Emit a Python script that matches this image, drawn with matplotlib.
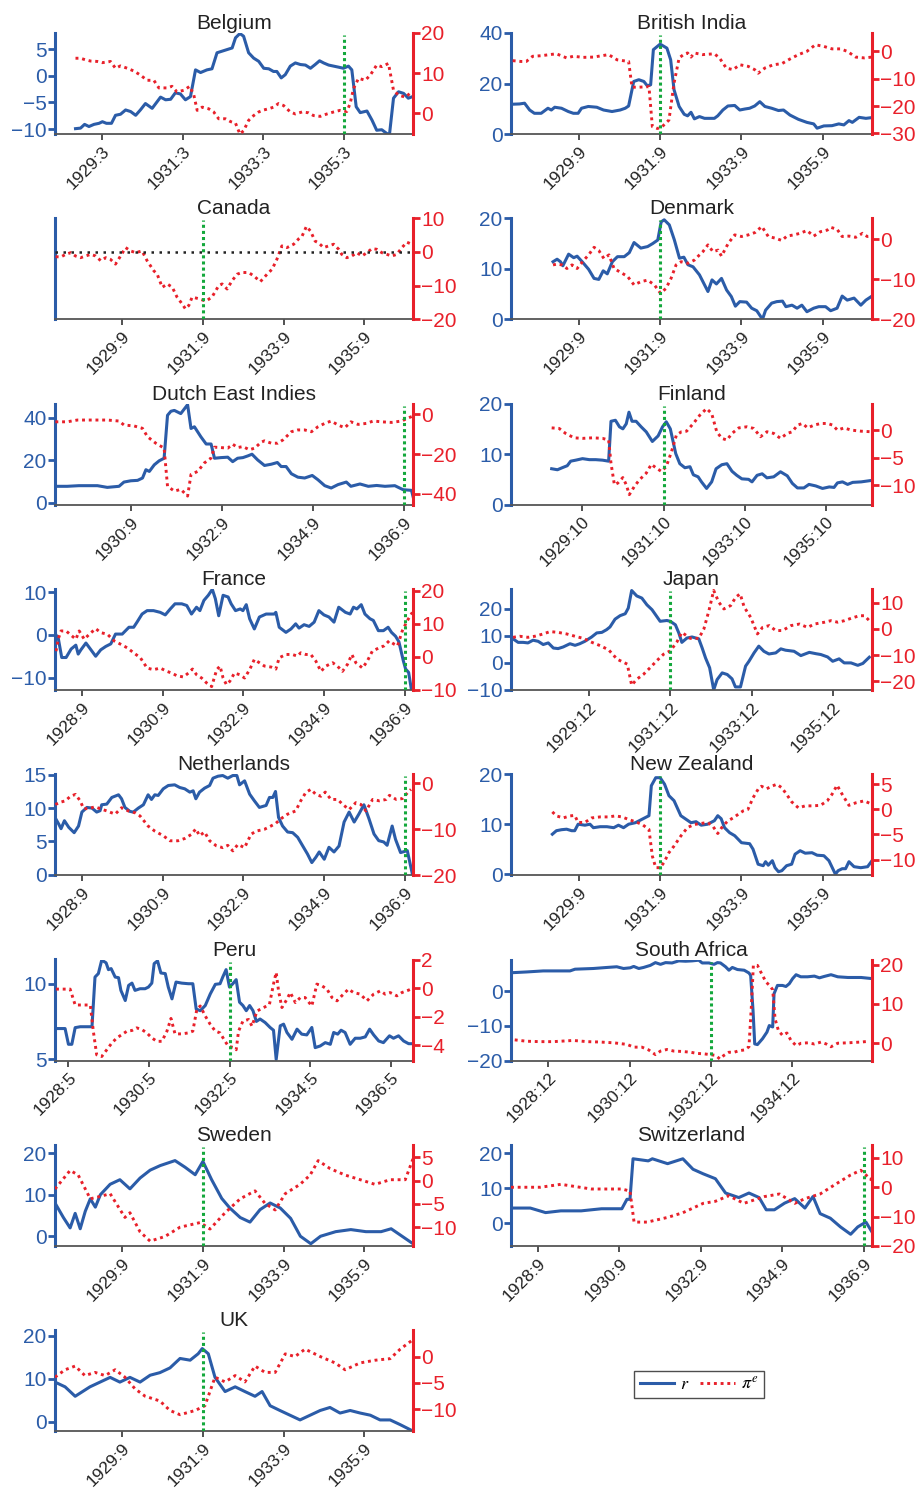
import matplotlib
matplotlib.use("Agg")
import matplotlib.pyplot as plt
from matplotlib.lines import Line2D

plt.rcParams["font.family"] = ["Liberation Sans", "DejaVu Sans"]
plt.rcParams["mathtext.fontset"] = "stix"

BLUE = "#2b5ca8"
RED = "#e8202a"
GREEN = "#14a83c"

# series are (month index from 1928:1, value) pairs; r = real rate, pi = expected inflation
belgium_r = [(6.1,-9.9),(7.6,-9.8),(8.8,-9.1),(10.1,-9.5),(11.6,-9.1),(13.1,-8.9),(14.1,-8.6),(15.3,-8.9),(16.8,-8.9),(18.0,-7.4),(19.5,-7.2),(21.0,-6.4),(22.5,-6.7),(24.0,-7.4),(25.4,-6.4),(26.9,-5.2),(28.9,-6.1),(31.4,-4.0),(32.9,-4.5),(34.4,-4.4),(35.8,-3.2),(37.3,-3.4),(38.8,-4.5),(40.3,-3.9),(41.8,1.1),(43.3,0.6),(45.2,1.1),(46.7,1.3),(48.2,4.3),(49.7,4.6),(51.2,4.9),(52.7,5.2),(53.7,7.1),(55.0,7.9),(56.1,7.4),(57.6,4.3),(59.1,3.3),(60.6,2.7),(62.1,1.4),(63.6,1.3),(65.0,0.8),(66.0,0.8),(67.3,-0.4),(68.5,0.2),(70.0,1.8),(71.5,2.4),(73.0,2.1),(74.5,2.0),(76.0,1.4),(77.4,2.1),(78.7,2.8),(79.9,2.4),(81.4,2.0),(82.9,1.8),(84.4,1.6),(85.8,1.4),(87.3,1.8),(88.3,1.1),(89.6,-5.8),(90.8,-6.9),(92.8,-6.6),(94.3,-8.3),(95.7,-10.2),(97.2,-10.1),(98.7,-10.8),(99.5,-11.0),(100.7,-4.2),(102.2,-3.0),(103.7,-3.3),(105.1,-4.2),(106.4,-3.9)]
belgium_pi = [(6.1,13.7),(7.6,13.7),(9.1,13.3),(10.6,13.0),(12.6,12.9),(14.1,12.6),(16.5,12.9),(18.0,11.2),(19.5,11.8),(21.5,11.2),(23.5,10.5),(25.4,9.5),(27.4,8.2),(29.4,8.2),(30.9,6.3),(33.4,6.3),(34.8,6.7),(36.3,5.3),(38.3,5.7),(40.1,6.7),(41.3,4.5),(42.3,0.7),(43.8,1.5),(45.7,1.1),(47.2,0.3),(48.7,-1.4),(50.7,-1.4),(52.2,-2.1),(53.7,-2.5),(55.0,-5.2),(56.1,-4.4),(57.6,-1.8),(59.1,-0.6),(60.6,0.3),(62.1,0.8),(63.6,1.1),(65.0,1.5),(66.5,2.4),(68.0,1.9),(70.0,0.3),(71.5,-0.2),(73.5,0.3),(75.4,0.1),(76.9,-0.6),(78.9,-0.8),(80.9,-0.2),(82.9,0.3),(84.8,0.7),(86.8,0.4),(87.8,2.4),(88.8,6.1),(90.3,8.7),(92.3,8.2),(93.8,9.5),(95.7,12.0),(97.2,11.6),(99.2,12.4),(100.7,5.7),(102.2,4.5),(104.2,4.0),(106.2,5.3)]

british_india_r = [(0.5,11.8),(2.5,11.9),(4.0,12.2),(5.5,9.5),(6.9,8.2),(8.9,8.2),(10.9,10.2),(11.9,9.5),(12.9,10.6),(14.9,10.2),(16.9,8.9),(18.4,8.2),(19.8,8.2),(20.8,10.2),(22.8,10.9),(25.3,10.6),(27.3,9.5),(29.8,8.9),(32.2,9.5),(33.7,10.2),(34.7,11.1),(36.2,20.8),(37.7,21.5),(39.2,20.8),(40.2,19.1),(41.2,19.5),(42.0,33.4),(44.0,35.6),(46.0,34.0),(47.1,29.4),(48.1,17.5),(49.6,10.9),(51.1,7.8),(52.1,7.2),(53.1,8.6),(54.1,6.0),(55.6,6.9),(57.1,6.2),(60.0,6.2),(61.0,7.2),(62.5,9.5),(64.0,11.1),(66.0,11.3),(67.5,9.5),(69.0,9.9),(70.4,10.2),(71.9,11.1),(73.4,12.8),(74.9,10.9),(76.9,10.2),(78.9,9.3),(80.4,9.5),(82.3,7.5),(84.8,5.8),(87.3,4.6),(89.3,4.0),(90.3,2.3),(92.3,3.2),(94.7,3.3),(96.7,4.0),(98.2,3.6),(99.7,5.3),(100.7,4.6),(102.7,6.6),(104.7,6.2),(106.5,6.5)]
british_india_pi = [(0.5,-3.4),(2.9,-3.7),(4.5,-3.7),(6.4,-1.8),(8.9,-1.6),(11.4,-1.2),(13.4,-0.9),(16.4,-2.4),(18.4,-1.8),(21.3,-2.2),(24.3,-2.1),(28.8,-1.2),(31.3,-3.1),(34.7,-3.7),(35.7,-13.1),(37.7,-13.1),(40.7,-12.9),(41.7,-27.5),(43.2,-28.2),(44.6,-27.5),(46.6,-25.1),(48.1,-11.6),(49.6,-2.4),(51.1,-1.0),(52.1,-0.6),(53.1,-2.1),(54.1,-0.6),(56.5,-1.2),(60.0,-0.9),(61.5,-2.4),(63.5,-6.1),(65.5,-6.7),(67.5,-4.9),(70.0,-5.5),(71.9,-6.7),(72.9,-8.0),(74.9,-6.1),(77.4,-4.9),(79.9,-4.5),(82.3,-2.8),(84.8,-1.2),(87.3,0.0),(89.8,2.4),(92.3,1.8),(94.7,0.9),(97.2,0.9),(99.2,0.0),(101.7,-2.1),(104.2,-2.4),(106.5,-2.1)]

canada_pi = [(0.2,-1.4),(1.7,-1.5),(3.2,-0.7),(4.7,-0.2),(6.1,-1.2),(7.6,-1.7),(9.1,-1.2),(10.6,-0.7),(12.1,-1.2),(13.6,-2.6),(15.1,-1.7),(16.5,-2.2),(18.0,-3.6),(19.5,-1.2),(21.0,1.3),(22.5,0.3),(24.0,-0.2),(25.9,0.3),(27.4,-2.6),(29.4,-5.6),(30.4,-6.6),(31.9,-10.5),(33.4,-9.5),(34.9,-10.5),(36.3,-13.4),(37.8,-15.4),(38.8,-16.9),(39.8,-15.9),(40.8,-13.4),(42.8,-13.9),(44.3,-14.4),(45.2,-14.4),(46.7,-13.4),(48.7,-10.0),(49.7,-9.5),(51.2,-11.0),(52.7,-8.5),(54.2,-6.6),(55.6,-6.1),(57.6,-6.1),(59.1,-7.1),(61.1,-8.8),(63.1,-6.6),(64.6,-5.1),(66.0,-2.2),(67.5,1.8),(69.0,1.3),(71.0,2.3),(72.5,3.9),(73.5,4.7),(74.8,7.6),(76.0,6.2),(77.4,3.2),(78.4,2.7),(79.9,1.3),(81.4,1.8),(82.9,2.3),(84.4,0.8),(85.3,-0.7),(86.8,-1.7),(88.3,-1.2),(89.8,-0.2),(91.3,-1.2),(92.8,-0.2),(94.3,1.0),(95.7,0.8),(97.2,-0.2),(98.7,-0.7),(100.2,-1.2),(101.7,-0.7),(103.2,1.3),(104.7,2.9),(106.1,2.3)]

denmark_r = [(12.4,11.4),(13.6,11.9),(14.6,11.4),(15.3,10.6),(17.0,12.9),(18.5,12.2),(19.5,12.5),(21.0,11.4),(22.9,9.9),(24.5,8.1),(25.9,7.9),(27.2,9.6),(28.4,9.0),(29.9,11.4),(31.4,12.4),(33.4,12.4),(34.9,13.2),(36.3,15.2),(38.3,14.1),(40.3,14.4),(41.8,15.0),(43.3,15.7),(44.3,19.3),(45.2,19.7),(46.7,18.7),(48.2,15.7),(49.7,12.1),(51.0,12.3),(52.2,10.8),(53.7,10.4),(55.6,8.8),(58.1,5.5),(59.3,7.8),(60.6,7.0),(62.1,8.1),(63.6,5.8),(65.0,4.5),(66.2,2.6),(67.5,3.5),(69.5,3.4),(71.0,2.2),(72.5,1.7),(74.2,0.0),(75.1,1.8),(76.9,3.2),(78.4,3.5),(80.1,3.6),(81.1,2.5),(82.9,2.8),(84.4,2.2),(85.8,2.8),(87.3,1.5),(89.3,2.2),(90.8,2.5),(92.8,2.5),(94.3,1.7),(96.2,2.2),(97.7,4.6),(99.2,3.8),(101.2,4.2),(103.2,2.8),(104.7,3.8),(106.5,4.6)]
denmark_pi = [(12.4,-6.4),(13.6,-6.2),(15.0,-6.4),(16.5,-7.3),(18.0,-6.4),(19.5,-7.3),(21.5,-5.2),(22.9,-3.9),(24.5,-2.0),(25.9,-2.8),(27.4,-4.8),(28.9,-3.9),(30.4,-7.3),(32.4,-8.3),(34.4,-9.3),(36.3,-11.4),(38.3,-10.6),(40.3,-10.2),(42.3,-11.4),(44.1,-13.5),(45.7,-12.3),(47.2,-9.8),(48.7,-6.4),(50.2,-5.6),(52.2,-6.0),(54.1,-5.2),(55.6,-3.9),(56.6,-3.1),(58.1,-1.4),(59.6,-3.1),(61.1,-2.7),(62.1,-4.2),(64.1,-1.0),(66.0,1.1),(68.0,0.7),(70.0,1.1),(72.0,1.7),(74.0,3.2),(75.9,0.7),(77.9,0.3),(79.9,-0.3),(81.4,0.8),(83.4,1.1),(85.3,1.5),(87.3,2.2),(89.3,0.8),(91.3,1.9),(93.3,2.3),(94.3,3.0),(96.2,2.5),(97.7,0.7),(99.7,0.8),(101.7,0.5),(103.7,1.5),(105.1,0.7),(106.5,0.8)]

dutch_east_indies_r = [(12.1,7.8),(15.2,7.8),(18.3,8.1),(23.2,8.1),(25.8,7.3),(28.9,7.8),(30.2,9.8),(32.0,10.4),(33.8,10.6),(35.1,11.7),(36.0,15.6),(36.9,14.8),(38.2,17.9),(39.5,19.8),(40.8,21.0),(41.7,41.2),(42.6,43.1),(43.5,43.5),(45.2,42.0),(47.0,46.2),(47.9,35.0),(48.8,35.8),(50.5,31.1),(51.9,27.7),(53.2,27.7),(54.1,21.0),(55.8,21.3),(57.6,21.5),(58.9,19.4),(60.2,21.0),(61.6,21.3),(62.9,22.1),(64.0,22.9),(65.5,20.2),(67.3,17.6),(69.1,18.2),(70.7,19.0),(71.7,17.1),(73.0,17.1),(74.4,13.7),(76.1,12.1),(77.9,11.7),(79.9,12.9),(81.4,10.9),(83.2,8.1),(84.9,7.0),(86.7,8.6),(88.9,9.8),(90.1,7.8),(92.5,8.9),(94.7,7.8),(96.9,8.2),(99.1,7.8),(101.7,8.1),(103.9,6.2),(106.1,5.9),(107.0,-0.5)]
dutch_east_indies_pi = [(12.1,-3.7),(15.2,-3.7),(17.9,-2.8),(23.2,-2.8),(25.8,-2.8),(28.9,-3.3),(30.2,-5.3),(32.9,-5.8),(35.1,-7.0),(36.4,-11.2),(38.6,-14.5),(40.8,-17.0),(41.7,-36.2),(43.5,-38.7),(45.2,-37.8),(47.0,-41.2),(47.9,-30.3),(49.7,-28.7),(51.4,-24.5),(53.2,-22.0),(54.1,-16.5),(55.8,-16.7),(57.6,-17.0),(58.9,-15.0),(60.2,-16.7),(61.6,-16.2),(63.3,-17.8),(64.7,-17.0),(66.4,-14.0),(67.3,-13.3),(69.1,-14.5),(70.8,-14.5),(72.2,-12.8),(74.4,-8.7),(76.1,-7.8),(77.9,-7.8),(79.7,-8.7),(81.4,-6.2),(83.2,-4.5),(84.9,-3.3),(86.7,-5.3),(88.5,-6.7),(90.1,-3.7),(92.0,-5.0),(94.2,-4.5),(96.0,-3.3),(98.2,-3.7),(100.8,-4.0),(103.5,-3.3),(105.3,-1.7),(106.6,-0.7)]

finland_r = [(12.0,7.1),(13.7,6.9),(15.1,7.3),(16.6,7.7),(17.6,8.6),(19.1,8.8),(21.1,9.1),(23.1,8.9),(25.0,8.9),(27.0,8.8),(28.8,8.6),(29.5,16.5),(30.8,16.7),(32.0,15.4),(33.0,15.0),(34.0,16.0),(34.8,18.3),(35.7,16.5),(36.9,16.5),(38.4,15.4),(39.9,14.4),(41.7,12.5),(43.4,13.6),(44.7,15.4),(45.8,16.4),(47.0,15.0),(48.6,10.1),(49.8,8.1),(51.3,7.3),(52.8,7.5),(53.8,5.9),(55.2,5.5),(56.2,4.5),(57.7,3.2),(59.2,4.5),(60.5,7.1),(62.2,7.9),(63.7,8.1),(65.2,6.6),(66.6,5.8),(68.1,5.1),(70.1,5.0),(71.1,4.5),(72.6,5.8),(74.1,6.1),(75.5,5.3),(77.5,5.5),(79.5,6.5),(81.5,5.7),(83.0,4.2),(84.5,3.3),(86.4,3.3),(87.9,4.0),(89.9,3.7),(91.9,3.2),(93.9,3.5),(95.3,3.4),(96.3,4.3),(97.8,4.5),(99.3,4.0),(100.8,4.4),(103.3,4.5),(106.5,4.8)]
finland_pi = [(12.0,0.4),(14.2,0.3),(16.1,-0.6),(18.6,-1.4),(21.1,-1.5),(24.1,-1.4),(27.0,-1.5),(28.8,-1.8),(29.5,-6.0),(30.5,-9.9),(31.5,-9.6),(33.0,-8.6),(34.0,-9.9),(34.9,-11.7),(36.4,-10.2),(37.9,-9.0),(39.9,-7.8),(41.4,-6.2),(42.9,-6.9),(44.4,-7.5),(45.8,-6.6),(47.3,-4.0),(48.8,-0.9),(50.3,-0.3),(51.8,-0.2),(53.8,1.2),(55.7,2.7),(57.7,3.9),(59.2,3.0),(60.7,-0.3),(62.2,-1.5),(63.7,-1.8),(65.2,-0.6),(67.2,0.4),(69.6,0.6),(71.6,0.3),(73.6,-1.2),(75.5,-0.3),(77.5,-0.6),(79.5,-1.5),(81.5,-0.6),(83.0,-0.3),(84.5,0.9),(86.0,1.2),(87.5,0.4),(89.4,0.9),(91.4,1.2),(93.4,1.2),(94.9,0.9),(96.3,0.0),(98.3,0.4),(100.3,0.0),(103.3,-0.2),(106.2,-0.3)]

france_r = [(0.3,0.0),(1.0,-0.9),(2.0,-5.3),(3.3,-5.3),(4.8,-3.3),(6.2,-2.4),(6.9,-4.5),(7.7,-3.5),(9.2,-1.9),(10.7,-3.5),(12.1,-5.0),(13.6,-3.5),(15.1,-2.7),(16.6,-2.1),(18.0,0.2),(20.0,0.2),(22.0,1.8),(23.4,1.8),(24.4,3.0),(25.9,4.9),(27.4,5.7),(29.3,5.7),(31.3,5.3),(32.8,4.7),(34.3,6.1),(35.7,7.3),(37.7,7.3),(39.2,6.9),(40.6,4.9),(42.1,6.5),(43.1,5.7),(44.3,8.1),(45.6,9.3),(46.8,10.7),(47.7,8.5),(48.7,4.5),(50.0,9.3),(51.5,8.9),(52.4,7.3),(53.7,5.7),(55.1,6.1),(55.9,5.7),(56.9,7.1),(57.9,3.8),(59.3,1.4),(60.8,4.2),(62.8,4.9),(65.2,4.9),(65.7,5.3),(66.7,1.8),(68.7,0.6),(70.2,1.4),(71.6,2.6),(72.6,1.6),(74.1,2.4),(75.6,2.0),(77.1,3.0),(78.5,5.7),(80.0,4.7),(81.5,4.2),(83.0,3.0),(84.4,6.5),(86.4,5.3),(87.8,4.9),(88.8,6.5),(89.8,6.1),(91.1,7.1),(92.2,4.9),(93.7,3.8),(94.7,3.4),(96.2,1.0),(97.7,1.0),(99.1,1.8),(100.1,0.6),(101.3,-0.3),(102.3,-1.6),(103.6,-6.0),(104.3,-8.0),(105.2,-8.8),(106.0,-12.7)]
france_pi = [(0.3,1.7),(1.0,5.5),(1.8,7.8),(3.3,7.8),(4.8,6.5),(6.2,5.3),(7.2,7.8),(8.7,5.3),(10.2,6.8),(12.1,8.5),(13.6,7.3),(15.6,6.8),(17.6,4.8),(19.5,3.8),(21.5,2.7),(23.4,1.2),(25.4,-0.3),(27.4,-3.4),(29.3,-3.9),(31.3,-3.4),(33.3,-4.4),(34.7,-4.9),(36.2,-5.7),(38.2,-6.1),(39.7,-4.9),(40.9,-3.7),(42.1,-5.4),(43.6,-6.4),(45.1,-7.9),(46.6,-9.0),(48.1,-3.9),(49.1,-2.8),(50.0,-6.4),(51.0,-8.4),(52.0,-7.4),(53.4,-4.9),(54.9,-5.4),(56.4,-6.4),(57.9,-3.9),(59.3,-0.8),(60.8,-1.8),(62.3,-2.8),(64.3,-3.1),(65.7,-3.7),(66.7,-0.3),(68.7,0.7),(70.6,0.7),(72.1,0.2),(73.1,1.2),(74.6,0.7),(76.1,0.7),(77.6,-1.3),(79.1,-4.4),(80.6,-2.8),(82.6,-1.8),(84.0,-2.8),(85.5,-4.4),(87.0,-2.3),(88.3,0.7),(89.5,-1.8),(91.5,-3.4),(92.9,-1.3),(94.4,1.7),(96.4,2.7),(97.9,3.3),(99.4,4.8),(100.9,3.8),(101.9,3.3),(103.3,7.8),(104.8,10.9),(106.3,13.4)]

japan_r = [(0.6,8.9),(2.1,7.6),(3.6,7.6),(5.0,7.4),(6.5,8.4),(8.0,8.0),(9.5,6.8),(11.0,7.4),(12.5,5.5),(13.9,5.3),(15.4,5.9),(17.4,7.1),(18.9,6.5),(20.3,7.1),(21.8,8.0),(23.8,9.6),(25.3,11.1),(26.8,11.3),(28.2,12.3),(29.2,13.3),(30.7,16.2),(32.2,17.5),(33.7,18.2),(34.6,20.3),(35.6,26.8),(37.1,24.8),(38.6,24.0),(40.1,21.5),(41.6,19.7),(43.0,17.2),(44.0,15.4),(46.0,15.7),(47.0,15.4),(48.5,14.1),(49.5,11.1),(50.4,7.6),(51.9,9.2),(53.4,9.6),(55.4,8.9),(56.4,5.5),(57.4,1.8),(58.6,-1.8),(59.8,-10.0),(60.8,-6.2),(62.3,-3.7),(63.8,-4.3),(65.2,-5.9),(66.2,-8.9),(67.7,-8.9),(69.2,-1.2),(70.2,0.6),(71.7,3.7),(73.1,6.2),(74.6,4.3),(76.1,3.3),(78.1,3.7),(79.6,5.2),(81.0,4.7),(83.5,4.3),(85.5,2.7),(88.0,3.9),(90.0,3.4),(91.4,3.1),(93.4,2.2),(94.9,0.6),(96.8,1.5),(98.3,0.0),(100.3,0.0),(102.3,-0.9),(103.8,-0.2),(105.7,2.1)]
japan_pi = [(0.6,-3.2),(2.6,-2.8),(5.0,-3.2),(7.0,-2.8),(9.5,-1.9),(11.5,-1.0),(13.9,-1.3),(16.4,-1.9),(18.9,-2.8),(21.3,-3.6),(23.8,-5.1),(26.3,-6.4),(28.8,-8.0),(31.3,-11.6),(34.3,-13.5),(35.6,-21.6),(37.1,-19.3),(39.1,-17.4),(41.1,-14.8),(43.0,-12.2),(45.0,-9.7),(47.0,-8.4),(48.9,-5.1),(50.4,-1.3),(52.9,-3.6),(55.4,-3.6),(56.9,0.0),(58.4,7.1),(59.8,14.8),(61.3,10.3),(62.8,7.7),(64.8,9.0),(66.3,12.2),(67.6,13.5),(68.8,8.4),(70.7,4.5),(72.7,-1.9),(74.2,0.6),(76.2,1.3),(78.1,-0.6),(80.1,-0.6),(82.6,1.3),(85.1,1.9),(87.5,0.6),(89.5,1.9),(92.5,2.6),(94.4,3.2),(96.4,2.6),(98.4,3.2),(100.3,4.1),(102.8,5.1),(104.3,5.1),(105.7,3.2)]

netherlands_r = [(0.1,8.5),(1.1,7.6),(1.8,6.9),(2.8,8.1),(4.1,7.1),(5.7,6.3),(7.0,7.3),(8.0,9.4),(9.5,10.1),(11.0,10.0),(12.4,9.4),(13.4,9.6),(13.9,10.5),(15.4,10.6),(16.9,11.6),(18.9,12.0),(19.8,11.4),(20.8,10.1),(22.3,9.5),(23.3,9.4),(24.8,10.0),(26.3,10.5),(27.7,12.0),(28.7,11.3),(29.7,12.0),(30.7,11.9),(32.2,12.9),(33.7,13.4),(35.6,13.5),(37.1,13.1),(38.6,12.9),(40.1,12.4),(41.1,12.6),(41.9,11.4),(43.0,12.4),(44.5,13.0),(46.0,13.4),(47.0,14.5),(48.5,14.8),(49.9,14.9),(51.4,14.5),(52.9,14.9),(54.1,14.9),(54.9,13.5),(56.4,14.1),(57.9,12.1),(59.3,11.1),(60.8,10.1),(62.8,10.4),(63.8,11.6),(64.8,11.6),(65.6,12.5),(66.5,8.6),(67.7,7.3),(69.2,6.4),(70.7,6.3),(72.2,5.6),(73.7,4.3),(75.1,3.1),(76.4,1.8),(77.6,2.6),(78.6,3.4),(80.1,2.3),(81.5,4.1),(83.0,3.4),(84.5,4.3),(86.0,7.9),(87.5,9.4),(89.0,7.9),(90.4,9.1),(91.9,10.5),(93.4,8.4),(94.9,6.1),(96.3,5.1),(97.8,4.9),(98.8,4.4),(100.3,7.3),(101.3,5.3),(102.8,3.3),(104.8,3.6),(106.3,0.1)]
netherlands_pi = [(0.1,-4.6),(1.6,-4.1),(3.1,-3.8),(4.6,-2.8),(6.1,-2.4),(7.5,-3.8),(8.5,-5.5),(10.0,-5.5),(11.9,-5.1),(13.4,-5.5),(15.4,-6.0),(17.9,-6.7),(19.8,-5.3),(21.8,-6.0),(23.8,-6.4),(25.3,-7.1),(27.7,-9.3),(29.7,-10.4),(32.2,-11.4),(34.2,-12.5),(36.6,-12.5),(38.6,-12.0),(40.6,-11.1),(41.9,-9.9),(43.0,-11.4),(44.5,-10.6),(46.0,-12.5),(48.0,-13.6),(49.9,-14.0),(51.4,-13.5),(52.9,-14.7),(54.4,-13.3),(56.4,-14.0),(58.3,-11.1),(59.8,-10.4),(62.3,-10.0),(64.2,-9.3),(65.7,-8.7),(67.2,-7.7),(69.2,-6.7),(71.6,-6.0),(73.1,-3.8),(74.6,-2.0),(76.1,-1.3),(77.6,-2.4),(79.1,-2.8),(80.4,-1.9),(82.1,-3.5),(84.1,-3.5),(85.6,-4.6),(87.5,-5.7),(89.5,-4.2),(91.0,-4.6),(92.5,-6.0),(94.5,-3.5),(96.5,-3.8),(98.5,-3.5),(99.5,-2.6),(101.5,-3.5),(103.4,-3.3),(104.9,-2.0),(105.9,-1.3)]

new_zealand_r = [(12.2,8.0),(13.4,8.7),(14.9,8.9),(16.4,9.0),(17.9,8.7),(18.8,8.7),(19.8,10.0),(21.8,9.8),(23.3,10.0),(24.3,9.3),(26.3,9.5),(28.3,9.5),(30.3,9.3),(31.7,9.8),(33.2,9.3),(34.7,10.0),(36.7,10.3),(38.7,11.0),(40.7,11.7),(41.4,17.7),(42.7,19.3),(44.0,19.3),(45.3,18.0),(46.6,15.7),(48.1,14.7),(50.1,11.7),(51.6,11.0),(53.1,10.3),(54.6,10.5),(56.1,9.8),(58.0,10.0),(60.0,10.7),(61.0,11.7),(62.0,11.1),(63.0,9.3),(64.5,8.3),(66.0,7.7),(68.0,6.3),(70.4,6.1),(71.4,5.0),(72.9,2.0),(74.4,1.7),(75.1,2.5),(75.9,1.8),(77.1,2.7),(77.9,1.3),(78.9,0.5),(79.9,0.7),(81.3,1.7),(82.8,2.0),(83.8,4.0),(85.3,4.7),(86.8,4.2),(88.8,4.3),(90.3,3.8),(92.3,3.7),(93.8,2.7),(95.7,0.0),(96.5,0.7),(97.7,1.1),(98.7,1.1),(99.7,2.5),(101.2,1.5),(103.2,1.3),(105.2,1.5),(106.5,2.7)]
new_zealand_pi = [(12.2,-0.5),(13.4,-1.3),(15.4,-1.7),(17.4,-1.3),(18.8,-1.2),(19.8,-2.6),(21.8,-2.6),(23.8,-1.7),(26.3,-1.5),(28.8,-1.5),(30.8,-1.3),(32.7,-1.5),(34.7,-2.0),(37.2,-2.6),(38.7,-3.0),(40.7,-4.0),(41.7,-9.3),(42.7,-11.6),(44.0,-11.6),(45.1,-10.6),(46.6,-8.6),(48.1,-7.3),(50.1,-5.3),(52.1,-3.6),(54.1,-3.0),(56.1,-2.8),(58.0,-2.6),(59.5,-3.3),(61.0,-4.8),(62.5,-3.3),(64.0,-2.3),(65.5,-1.7),(67.0,-1.0),(68.5,-0.3),(69.9,0.0),(71.4,2.3),(72.9,4.0),(73.9,4.6),(75.4,4.1),(76.9,4.6),(78.4,5.0),(79.9,4.3),(81.3,3.0),(82.8,1.5),(84.8,0.3),(86.8,0.7),(88.8,0.7),(91.3,0.8),(93.3,1.7),(94.7,3.0),(96.2,4.8),(97.7,3.0),(99.7,0.8),(101.7,1.3),(104.2,1.7),(106.5,1.0)]

peru_r = [(0.3,7.04),(1.5,7.04),(3.0,7.04),(4.0,6.0),(5.0,6.0),(6.0,7.1),(7.5,7.16),(9.5,7.16),(11.0,7.16),(11.9,10.44),(12.9,10.67),(13.9,11.56),(15.2,11.38),(15.9,10.93),(16.7,11.0),(17.9,10.44),(18.9,10.4),(19.6,9.56),(20.9,8.89),(21.9,9.89),(22.9,10.04),(23.8,9.56),(25.3,9.67),(26.8,9.67),(27.8,9.78),(28.8,10.04),(29.5,11.33),(30.5,11.51),(31.5,10.71),(32.8,10.67),(33.7,9.78),(34.8,9.0),(36.0,10.11),(37.7,10.04),(39.7,10.0),(41.0,10.0),(42.0,8.33),(43.2,8.22),(44.7,8.56),(46.2,9.33),(47.7,9.96),(49.1,10.0),(49.9,10.44),(50.9,10.93),(51.9,9.78),(52.9,10.0),(53.9,10.27),(54.9,8.78),(55.9,8.56),(56.9,8.22),(57.9,8.56),(58.9,8.22),(59.9,7.51),(61.0,7.67),(62.5,7.44),(64.0,7.11),(65.0,6.93),(65.8,5.0),(67.0,7.22),(68.0,7.33),(69.0,6.78),(70.5,6.33),(72.0,7.0),(73.4,6.67),(74.9,6.62),(76.4,7.11),(77.4,5.78),(78.9,5.89),(80.4,6.11),(81.9,6.0),(82.9,6.78),(84.1,6.67),(85.1,6.93),(86.3,6.78),(87.8,6.0),(89.3,6.4),(90.8,6.4),(92.3,6.49),(93.6,7.0),(94.8,6.62),(96.3,6.22),(97.7,6.11),(99.5,6.56),(100.7,6.4),(102.2,6.56),(103.7,6.22),(105.2,6.04),(106.5,6.04)]
peru_pi = [(0.3,-0.07),(2.5,-0.07),(4.5,-0.07),(6.0,-1.18),(8.0,-1.18),(10.5,-1.18),(11.4,-3.01),(12.4,-4.66),(13.9,-4.78),(15.4,-4.31),(16.9,-3.84),(18.4,-3.48),(19.9,-3.25),(21.4,-3.01),(22.9,-2.96),(24.3,-2.78),(25.8,-2.89),(27.3,-3.13),(28.8,-3.48),(30.3,-3.72),(31.8,-3.72),(33.3,-3.01),(34.5,-2.12),(35.7,-3.2),(37.7,-3.2),(39.7,-3.13),(41.0,-3.01),(42.2,-1.48),(43.2,-1.25),(44.7,-1.95),(46.2,-2.54),(47.7,-3.01),(49.1,-3.13),(50.6,-3.72),(51.6,-4.07),(52.9,-4.14),(53.9,-4.31),(54.6,-3.01),(55.9,-2.31),(57.6,-2.19),(58.6,-2.66),(60.1,-1.6),(62.1,-1.36),(63.8,-1.13),(65.0,0.28),(65.8,1.1),(66.5,-0.19),(67.5,-1.36),(69.0,-0.78),(70.0,-0.31),(71.5,-1.01),(73.0,-0.66),(74.4,-0.66),(76.4,-1.25),(77.9,0.28),(79.4,0.16),(80.9,-0.07),(82.4,-0.66),(83.9,-0.89),(85.3,-0.54),(87.3,-0.07),(88.8,-0.31),(90.8,-0.42),(92.8,-0.89),(94.8,-0.42),(96.8,-0.19),(98.2,-0.42),(99.7,-0.31),(101.7,-0.54),(103.2,-0.31),(105.2,-0.14),(106.5,0.0)]

south_africa_r = [(0.6,5.4),(4.6,5.6),(9.5,5.9),(14.5,5.9),(17.4,5.9),(18.9,6.4),(24.3,6.6),(28.3,6.9),(31.2,7.1),(33.2,6.6),(35.2,6.8),(36.2,7.2),(37.7,6.6),(39.1,6.9),(41.1,7.5),(42.6,8.3),(44.1,7.8),(45.6,8.3),(47.5,8.2),(49.5,8.8),(51.5,8.7),(53.4,8.8),(55.4,9.0),(56.4,8.2),(58.4,8.2),(59.9,7.8),(60.9,8.3),(61.8,8.2),(63.3,7.1),(64.3,6.1),(65.3,6.9),(66.8,6.3),(68.8,6.1),(70.2,5.3),(70.7,4.6),(71.4,-5.5),(71.9,-15.2),(72.7,-15.4),(74.2,-13.7),(75.5,-11.8),(76.2,-9.9),(77.2,-10.3),(77.6,-0.7),(78.6,1.7),(80.1,1.7),(81.1,1.4),(82.1,2.2),(83.1,3.7),(84.1,4.8),(85.5,4.2),(87.5,4.2),(89.5,4.4),(91.0,3.9),(92.4,4.3),(94.4,4.8),(96.4,4.2),(99.4,4.0),(103.3,4.0),(106.3,3.7)]
south_africa_pi = [(1.1,0.85),(4.6,0.5),(8.5,0.4),(12.5,0.4),(18.4,0.7),(22.4,0.4),(26.3,0.3),(30.3,0.1),(34.2,-0.3),(36.2,-1.0),(38.6,-1.0),(40.6,-1.7),(42.6,-2.9),(44.1,-2.0),(46.0,-1.6),(48.0,-2.0),(50.5,-2.1),(53.0,-2.3),(54.9,-2.6),(56.9,-2.7),(58.7,-2.9),(60.4,-3.1),(61.6,-4.0),(62.8,-3.1),(64.3,-2.3),(65.8,-2.3),(67.3,-1.9),(69.0,-1.7),(70.2,-0.9),(70.9,9.2),(71.5,19.8),(72.7,19.8),(73.7,18.1),(75.2,15.6),(76.5,14.5),(77.2,13.6),(77.9,6.2),(78.9,3.2),(80.1,2.0),(81.4,2.6),(82.6,0.7),(84.1,-0.6),(85.6,0.0),(87.6,0.1),(89.5,-0.2),(91.5,0.3),(93.0,-0.2),(94.4,-0.9),(96.4,0.0),(99.4,0.1),(103.3,0.3),(105.8,0.5)]

sweden_r = [(0.0,8.0),(2.5,4.5),(4.5,2.0),(6.0,5.5),(7.5,1.8),(9.0,6.0),(10.5,9.0),(12.0,7.0),(13.5,10.0),(16.4,12.5),(19.3,13.6),(22.3,11.4),(25.3,14.0),(28.3,15.9),(31.3,17.0),(35.7,18.2),(38.7,16.6),(41.7,14.8),(44.0,18.0),(46.6,13.6),(49.6,9.1),(52.0,6.8),(55.1,4.5),(58.0,3.4),(61.0,6.4),(64.0,8.0),(67.0,6.8),(70.1,4.3),(73.0,0.0),(76.1,-1.8),(79.0,0.0),(83.5,1.1),(88.0,1.6),(92.5,1.1),(97.0,1.1),(100.0,1.8),(106.5,-1.8)]
sweden_pi = [(0.0,-1.8),(4.5,2.2),(6.9,1.2),(10.5,-3.9),(13.4,-3.4),(16.4,-2.8),(20.8,-7.9),(22.3,-6.9),(25.3,-11.0),(28.3,-13.0),(32.7,-12.0),(37.2,-10.0),(43.2,-9.0),(46.1,-10.4),(50.6,-6.9),(55.1,-3.9),(59.5,-2.2),(62.5,-4.9),(65.5,-6.3),(68.5,-2.8),(72.9,-0.8),(75.9,1.2),(78.3,4.3),(81.8,2.6),(86.3,1.2),(90.8,0.2),(95.2,-0.8),(99.7,0.2),(104.2,0.2),(106.5,4.7)]

switzerland_r = [(0.0,4.3),(5.7,4.3),(10.2,3.0),(14.7,3.5),(20.7,3.5),(26.7,4.1),(32.7,4.1),(34.2,6.8),(35.1,6.8),(36.0,18.4),(40.5,17.8),(41.7,18.4),(46.2,17.0),(50.7,18.4),(53.7,15.4),(56.7,14.1),(60.3,12.7),(63.3,8.6),(67.2,7.3),(70.2,8.6),(73.2,7.3),(75.3,3.8),(77.7,3.8),(80.7,5.7),(83.7,7.0),(86.7,4.3),(89.1,7.6),(91.2,2.7),(94.2,1.4),(97.2,-1.1),(100.2,-3.2),(102.3,-1.1),(104.7,0.3),(107.1,-3.5),(108.3,-6.5)]
switzerland_pi = [(0.0,0.0),(8.7,0.0),(14.7,1.0),(23.7,-0.6),(32.7,-0.6),(35.1,-1.3),(36.3,-11.9),(40.2,-11.9),(46.2,-10.3),(50.7,-8.7),(56.7,-5.5),(60.3,-4.8),(64.2,-2.9),(68.7,-5.5),(74.7,-3.2),(79.2,-2.3),(83.7,-5.5),(86.7,-3.9),(91.2,-2.3),(95.7,1.0),(100.2,4.2),(103.2,5.8),(106.2,2.6),(108.3,12.0)]

uk_r = [(0.0,9.2),(3.0,8.1),(6.0,5.9),(10.4,8.1),(13.4,9.2),(16.4,10.3),(19.3,9.2),(22.3,10.3),(25.3,9.2),(28.3,10.8),(31.2,11.4),(34.2,12.5),(37.2,14.7),(40.2,14.3),(42.6,15.8),(43.8,17.0),(45.6,15.8),(47.6,10.3),(50.6,7.0),(53.6,8.1),(56.5,7.0),(59.5,5.9),(61.6,7.0),(64.0,3.7),(66.9,2.6),(69.9,1.5),(72.9,0.4),(75.9,1.5),(78.9,2.6),(81.8,3.3),(84.8,2.0),(87.8,2.6),(90.8,2.0),(93.8,1.5),(96.7,0.4),(99.7,0.4),(102.7,-0.7),(106.5,-2.2)]
uk_pi = [(0.0,-3.9),(3.0,-2.5),(6.0,-1.8),(8.9,-3.6),(11.9,-3.0),(14.9,-3.6),(17.9,-2.5),(20.8,-3.9),(23.8,-6.1),(26.8,-7.5),(31.2,-8.4),(34.2,-10.2),(37.2,-11.0),(41.7,-10.2),(44.6,-9.3),(47.6,-3.9),(50.6,-4.8),(53.6,-3.6),(56.5,-4.8),(59.5,-1.8),(62.5,-3.0),(65.5,-3.0),(68.5,0.5),(71.4,0.0),(74.4,1.4),(78.9,0.0),(83.3,-1.2),(86.3,-2.5),(90.8,-1.2),(95.2,-0.7),(99.7,-0.4),(102.7,1.4),(106.5,3.2)]

MONTH0 = 1928  # month index 0 = 1928:1


def ym(year, month):
    return (year - MONTH0) * 12 + month - 1


# name, r, pi, devaluation (year, month), r limits, r ticks, pi limits, pi ticks, x start
panels = [
    ("Belgium", belgium_r, belgium_pi, (1935, 3), (-10.9, 8.0), [-10, -5, 0, 5], (-5.2, 20), [0, 10, 20], 0),
    ("British India", british_india_r, british_india_pi, (1931, 9), (0, 40), [0, 20, 40], (-30.2, 6.7), [-30, -20, -10, 0], 0),
    ("Canada", None, canada_pi, (1931, 9), (0, 1), [], (-20, 10), [-20, -10, 0, 10], 0),
    ("Denmark", denmark_r, denmark_pi, (1931, 9), (0, 20), [0, 10, 20], (-20, 5.25), [-20, -10, 0], 0),
    ("Dutch East Indies", dutch_east_indies_r, dutch_east_indies_pi, (1936, 9), (-0.8, 46.7), [0, 20, 40], (-45.5, 5.5), [-40, -20, 0], 12),
    ("Finland", finland_r, finland_pi, (1931, 10), (0, 20), [0, 10, 20], (-13.5, 4.8), [-10, -5, 0], 0),
    ("France", france_r, france_pi, (1936, 9), (-12.9, 10.8), [-10, 0, 10], (-10, 20.5), [-10, 0, 10, 20], 0),
    ("Japan", japan_r, japan_pi, (1931, 12), (-10, 27.4), [-10, 0, 10, 20], (-23.4, 15.4), [-20, -10, 0, 10], 0),
    ("Netherlands", netherlands_r, netherlands_pi, (1936, 9), (-0.1, 15.1), [0, 5, 10, 15], (-20, 2.0), [-20, -10, 0], 0),
    ("New Zealand", new_zealand_r, new_zealand_pi, (1931, 9), (-0.2, 20), [0, 10, 20], (-13.1, 7.0), [-10, -5, 0, 5], 0),
    ("Peru", peru_r, peru_pi, (1932, 5), (4.93, 11.6), [5, 10], (-5.06, 2.0), [-4, -2, 0, 2], 0),
    ("South Africa", south_africa_r, south_africa_pi, (1932, 12), (-20, 9.2), [-20, -10, 0], (-4.4, 21.3), [0, 10, 20], 0),
    ("Sweden", sweden_r, sweden_pi, (1931, 9), (-2.3, 22), [0, 10, 20], (-14, 7.7), [-10, -5, 0, 5], 0),
    ("Switzerland", switzerland_r, switzerland_pi, (1936, 9), (-6.5, 22.4), [0, 10, 20], (-20, 14.5), [-20, -10, 0, 10], 0),
    ("UK", uk_r, uk_pi, (1931, 9), (-2.2, 21.3), [0, 10, 20], (-14.1, 5.0), [-10, -5, 0], 0),
]

W, H = 920, 1490
fig = plt.figure(figsize=(W / 100, H / 100), dpi=100)

col_left = [55, 511]
col_width = [358, 361]
ax_h = 101

for i, (name, r, pi, dev, rlim, rticks, plim, pticks, x0) in enumerate(panels):
    row, col = divmod(i, 2)
    top = 33 + 185.3 * row
    ax = fig.add_axes([col_left[col] / W, 1 - (top + ax_h) / H, col_width[col] / W, ax_h / H])
    ax2 = ax.twinx()

    if r is not None:
        t, v = zip(*r)
        ax.plot(t, v, color=BLUE, lw=2.2, solid_joinstyle="round")
    t, v = zip(*pi)
    ax2.plot(t, v, color=RED, lw=2.1, ls=(0, (1, 1.3)))
    if name == "Canada":
        ax2.axhline(0, color="#222222", lw=1.8, ls=(0, (1, 2.2)))
    d = ym(*dev)
    ax2.axvline(d, ymin=0, ymax=0.98, color=GREEN, lw=2.2, ls=(0, (1, 1)))

    ax.set_xlim(x0, 106.5)
    ax.set_ylim(*rlim)
    ax2.set_ylim(*plim)
    ax.set_yticks(rticks)
    ax2.set_yticks(pticks)

    # x ticks every two years around the devaluation month
    xt = [d + 24 * k for k in range(-5, 5) if x0 <= d + 24 * k <= 106.5]
    ax.set_xticks(xt)
    labels = []
    for m in xt:
        yy, mm = divmod(int(m), 12)
        labels.append(f"{MONTH0 + yy}:{mm + 1}")
    ax.set_xticklabels(labels, rotation=45, ha="right", rotation_mode="anchor")

    for s in ["top", "right"]:
        ax.spines[s].set_visible(False)
    for s in ["top", "left", "bottom"]:
        ax2.spines[s].set_visible(False)
    ax.spines["left"].set_color(BLUE)
    ax.spines["left"].set_linewidth(2.2)
    ax.spines["bottom"].set_color("#555555")
    ax.spines["bottom"].set_linewidth(1.3)
    ax2.spines["right"].set_color(RED)
    ax2.spines["right"].set_linewidth(2.2)

    ax.tick_params(axis="y", colors=BLUE, labelsize=15, length=5, width=2, pad=1)
    ax2.tick_params(axis="y", colors=RED, labelsize=15, length=5, width=2, pad=1)
    ax.tick_params(axis="x", colors="#333333", labelcolor="#222222", labelsize=12.5, length=4, width=1.2, pad=3)

    ax.set_title(name, fontsize=15, pad=2, color="#222222")

handles = [Line2D([], [], color=BLUE, lw=2.2),
           Line2D([], [], color=RED, lw=2.1, ls=(0, (1, 1.3)))]
fig.legend(handles, [r"$r$", r"$\pi^e$"], loc="center", bbox_to_anchor=(699 / W, 1 - 1384.5 / H),
           ncol=2, frameon=True, fancybox=False, edgecolor="#222222", fontsize=13,
           handlelength=1.9, columnspacing=0.6, handletextpad=0.35, borderpad=0.3,
           borderaxespad=0)

fig.savefig("out.png", dpi=100)
